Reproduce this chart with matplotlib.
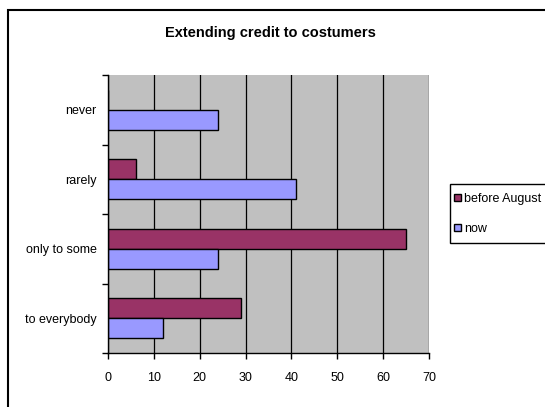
import numpy as np
import matplotlib
matplotlib.use("Agg")
import matplotlib.pyplot as plt
from matplotlib.patches import Rectangle

plt.rcParams['font.family'] = ['Liberation Sans', 'DejaVu Sans']

categories = ["to everybody", "only to some", "rarely", "never"]
before_august = [29, 65, 6, 0]
now = [12, 24, 41, 24]
series_names = ["before August", "now"]

W, H = 545, 407
fig = plt.figure(figsize=(W / 100, H / 100), dpi=100)
ax = fig.add_axes([108 / W, 1 - 353 / H, 321 / W, 278 / H])
ax.set_facecolor("#C0C0C0")

y = np.arange(len(categories))
h = 0.288
ax.barh(y + h / 2, before_august, height=h, color="#993366",
        edgecolor="black", linewidth=1, label=series_names[0], zorder=3)
ax.barh(y - h / 2, now, height=h, color="#9999FF",
        edgecolor="black", linewidth=1, label=series_names[1], zorder=3)

ax.set_xlim(0, 70)
ax.set_ylim(-0.5, 3.5)
ax.set_xticks(np.arange(0, 71, 10))
ax.xaxis.grid(True, color="black", linewidth=0.9, zorder=1)
ax.set_axisbelow(True)

# category labels centred, tick marks between categories
ax.set_yticks(y)
ax.set_yticklabels(categories, fontsize=9)
ax.set_yticks(np.arange(-0.5, 4, 1), minor=True)
ax.tick_params(axis="y", which="major", length=0, pad=8)
ax.tick_params(axis="y", which="minor", length=4, width=1, direction="out")
ax.tick_params(axis="x", length=4, width=1, direction="out", pad=10, labelsize=9)

for s in ["top", "right"]:
    ax.spines[s].set_visible(False)
for s in ["left", "bottom"]:
    ax.spines[s].set_linewidth(1)
    ax.spines[s].set_zorder(4)

fig.text(270 / W, 1 - 33 / H, "Extending credit to costumers",
         ha="center", va="center", fontsize=10.5, fontweight="bold")

# chart border
fig.add_artist(Rectangle((8 / W, -0.2), 1.2, 1.2 - 10 / H,
                         transform=fig.transFigure, fill=False,
                         edgecolor="black", linewidth=1.5))

# legend box drawn separately so it can be taller than the entries
fig.add_artist(Rectangle((450 / W, 1 - 243 / H), 0.3, 59 / H,
                         transform=fig.transFigure, fill=True, facecolor="white",
                         edgecolor="black", linewidth=1))
leg = fig.legend(loc="upper left", bbox_to_anchor=(450 / W, 1 - 189 / H),
                 fontsize=9, frameon=False,
                 handlelength=0.55, handleheight=0.55, handletextpad=0.3,
                 borderpad=0.3, labelspacing=1.45, borderaxespad=0)

fig.savefig("out.png", dpi=100)
